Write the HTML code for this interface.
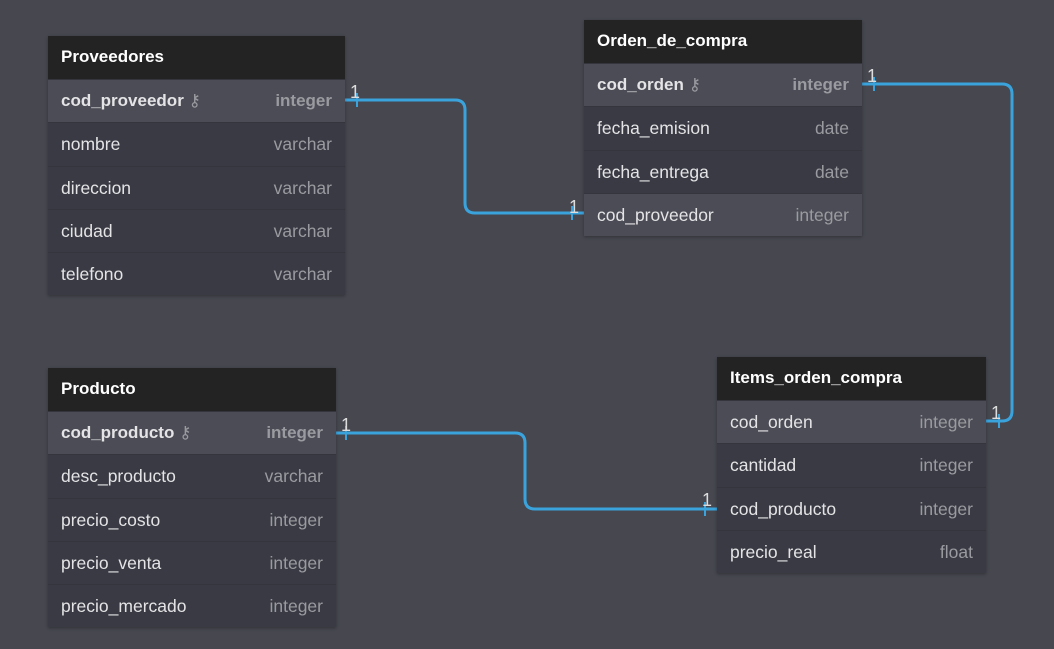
<!DOCTYPE html>
<html><head><meta charset="utf-8"><style>
body{margin:0;width:1054px;height:649px;background:#46474f;position:relative;overflow:hidden;font-family:"Liberation Sans","DejaVu Sans",sans-serif;}
.t{position:absolute;box-shadow:0 1px 3px rgba(0,0,0,.3)}
.h{height:43px;background:#232323;color:#fff;font-weight:bold;font-size:17px;line-height:42px;padding-left:13px;box-sizing:border-box}
.r{height:43.3px;background:#393a43;color:#e4e4e6;font-size:17.5px;line-height:42px;padding:0 13px;display:flex;justify-content:space-between;box-sizing:border-box;border-top:1px solid #34353d}
.r span:last-child{color:#9a9ba0}
.r.hl{background:#4b4c55}
.r.pk{font-weight:bold;font-size:17px}
.k{font-weight:normal;font-size:17px;color:#ccc}
</style></head><body>
<svg width="1054" height="649" style="position:absolute;left:0;top:0" fill="none" stroke="#3ba3dc" stroke-width="3">
<path d="M345 100 H455 Q465 100 465 110 V203 Q465 213 475 213 H584"/>
<path d="M862 84 H1002 Q1012 84 1012 94 V411 Q1012 421 1002 421 H986"/>
<path d="M336 433 H515 Q525 433 525 443 V499 Q525 509 535 509 H717"/>
<g stroke-width="2"><path d="M357 93V107M572 206V220M874 77V91M999 414V428M346 426V440M705 502V516"/></g>
<g fill="#ddd" stroke="none" font-size="18" font-family="Liberation Sans,sans-serif">
<text x="350" y="98">1</text><text x="569" y="213">1</text><text x="867" y="82">1</text><text x="991" y="419">1</text><text x="341" y="431">1</text><text x="702" y="506">1</text></g>
</svg>
<div class="t" style="left:48px;top:36px;width:297px">
<div class="h">Proveedores</div>
<div class="r hl pk"><span>cod_proveedor <span class="k">⚷</span></span><span>integer</span></div>
<div class="r"><span>nombre</span><span>varchar</span></div>
<div class="r"><span>direccion</span><span>varchar</span></div>
<div class="r"><span>ciudad</span><span>varchar</span></div>
<div class="r"><span>telefono</span><span>varchar</span></div>
</div>
<div class="t" style="left:584px;top:20px;width:278px">
<div class="h">Orden_de_compra</div>
<div class="r hl pk"><span>cod_orden <span class="k">⚷</span></span><span>integer</span></div>
<div class="r"><span>fecha_emision</span><span>date</span></div>
<div class="r"><span>fecha_entrega</span><span>date</span></div>
<div class="r hl"><span>cod_proveedor</span><span>integer</span></div>
</div>
<div class="t" style="left:48px;top:368px;width:288px">
<div class="h">Producto</div>
<div class="r hl pk"><span>cod_producto <span class="k">⚷</span></span><span>integer</span></div>
<div class="r"><span>desc_producto</span><span>varchar</span></div>
<div class="r"><span>precio_costo</span><span>integer</span></div>
<div class="r"><span>precio_venta</span><span>integer</span></div>
<div class="r"><span>precio_mercado</span><span>integer</span></div>
</div>
<div class="t" style="left:717px;top:357px;width:269px">
<div class="h">Items_orden_compra</div>
<div class="r hl"><span>cod_orden</span><span>integer</span></div>
<div class="r"><span>cantidad</span><span>integer</span></div>
<div class="r"><span>cod_producto</span><span>integer</span></div>
<div class="r"><span>precio_real</span><span>float</span></div>
</div>
</body></html>
